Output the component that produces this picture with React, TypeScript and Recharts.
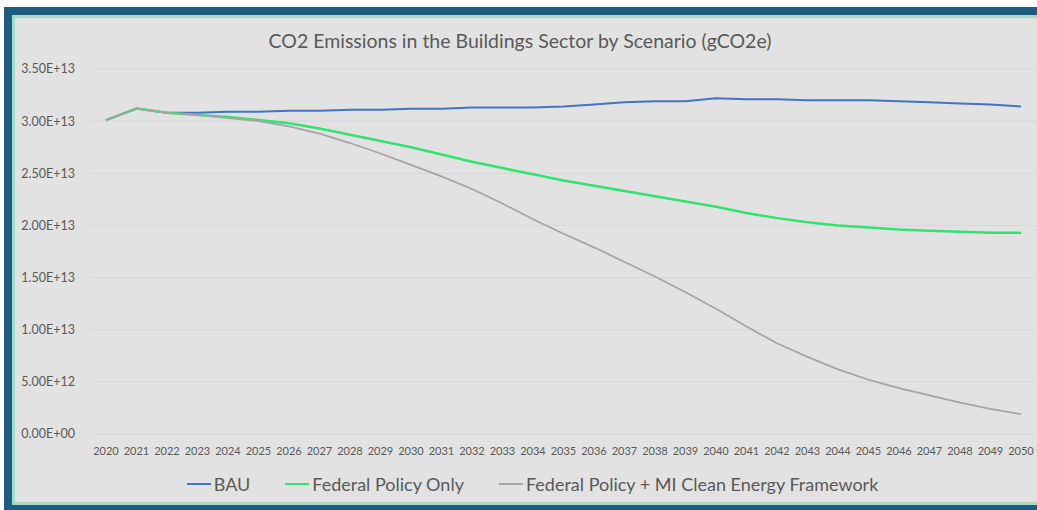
import { LineChart, Line, XAxis, YAxis, CartesianGrid, Legend } from 'recharts';

const years = [
  2020, 2021, 2022, 2023, 2024, 2025, 2026, 2027, 2028, 2029, 2030,
  2031, 2032, 2033, 2034, 2035, 2036, 2037, 2038, 2039, 2040,
  2041, 2042, 2043, 2044, 2045, 2046, 2047, 2048, 2049, 2050,
];

// gCO2e
const bau = [
  3.01e13, 3.12e13, 3.08e13, 3.08e13, 3.09e13, 3.09e13, 3.10e13, 3.10e13, 3.11e13, 3.11e13, 3.12e13,
  3.12e13, 3.13e13, 3.13e13, 3.13e13, 3.14e13, 3.16e13, 3.18e13, 3.19e13, 3.19e13, 3.22e13,
  3.21e13, 3.21e13, 3.20e13, 3.20e13, 3.20e13, 3.19e13, 3.18e13, 3.17e13, 3.16e13, 3.14e13,
];

const federalOnly = [
  3.01e13, 3.12e13, 3.08e13, 3.06e13, 3.04e13, 3.01e13, 2.98e13, 2.93e13, 2.87e13, 2.81e13, 2.75e13,
  2.68e13, 2.61e13, 2.55e13, 2.49e13, 2.43e13, 2.38e13, 2.33e13, 2.28e13, 2.23e13, 2.18e13,
  2.12e13, 2.07e13, 2.03e13, 2.00e13, 1.98e13, 1.96e13, 1.95e13, 1.94e13, 1.93e13, 1.93e13,
];

const federalMi = [
  3.01e13, 3.12e13, 3.08e13, 3.06e13, 3.03e13, 3.00e13, 2.95e13, 2.88e13, 2.79e13, 2.69e13, 2.58e13,
  2.47e13, 2.35e13, 2.21e13, 2.06e13, 1.92e13, 1.79e13, 1.65e13, 1.51e13, 1.36e13, 1.20e13,
  1.03e13, 0.87e13, 0.74e13, 0.62e13, 0.52e13, 0.44e13, 0.37e13, 0.30e13, 0.24e13, 0.19e13,
];

const yTicks = [0, 5e12, 1e13, 1.5e13, 2e13, 2.5e13, 3e13, 3.5e13];

const seriesOrder = ['bau', 'federalOnly', 'federalMi'];

const data = years.map((y, i) => ({
  year: String(y),
  bau: bau[i],
  federalOnly: federalOnly[i],
  federalMi: federalMi[i],
}));

const FONT = 'Lato, "Open Sans", sans-serif';
const TEXT = '#595959';

function sci(v: number) {
  if (v === 0) return '0.00E+00';
  const exp = Math.floor(Math.log10(v) + 1e-9);
  const m = v / Math.pow(10, exp);
  return `${m.toFixed(2)}E+${String(exp).padStart(2, '0')}`;
}

const renderLegend = (props: any) => {
  const items = [...(props.payload || [])].sort(
    (a: any, b: any) => seriesOrder.indexOf(a.dataKey) - seriesOrder.indexOf(b.dataKey)
  );
  return (
    <div
      style={{
        display: 'flex',
        justifyContent: 'center',
        alignItems: 'center',
        gap: 35,
        fontFamily: FONT,
        fontSize: 18,
        color: TEXT,
      }}
    >
      {items.map((e: any) => (
        <span key={e.value} style={{ display: 'flex', alignItems: 'center' }}>
          <svg width={24} height={10}>
            <line x1={0} y1={5} x2={24} y2={5} stroke={e.color} strokeWidth={2} />
          </svg>
          <span style={{ marginLeft: 3 }}>{e.value}</span>
        </span>
      ))}
    </div>
  );
};

export default function App() {
  return (
    <div style={{ position: 'fixed', left: 0, top: 0, right: 0, bottom: 0, background: '#fff', overflow: 'hidden' }}>
      <div style={{ position: 'absolute', left: 4, top: 7, right: -60, bottom: -20, background: '#1a5d80' }} />
      <div style={{ position: 'absolute', left: 12, top: 15, right: -60, height: 490, background: '#a9d9c4' }} />
      <div style={{ position: 'absolute', left: 15, top: 18, right: -60, height: 484, background: '#e2e2e2' }} />
      <div
        style={{
          position: 'absolute',
          left: 0,
          width: 1040,
          top: 30,
          textAlign: 'center',
          fontFamily: FONT,
          fontSize: 19.5,
          color: TEXT,
          lineHeight: '22px',
        }}
      >
        CO2 Emissions in the Buildings Sector by Scenario (gCO2e)
      </div>
      <div style={{ position: 'absolute', left: 0, top: 0 }}>
        <LineChart width={1037} height={510} data={data} margin={{ top: 69, right: 1, left: 0, bottom: 46 }}>
          <CartesianGrid vertical={false} stroke="#d6d6d6" strokeWidth={1} />
          <XAxis
            dataKey="year"
            interval={0}
            padding={{ left: 15, right: 15 }}
            axisLine={false}
            tickLine={false}
            tickSize={6}
            tickMargin={7}
            height={30}
            tick={{ fontSize: 11, fill: TEXT, fontFamily: FONT }}
          />
          <YAxis
            domain={[0, 3.5e13]}
            ticks={yTicks}
            tickFormatter={sci}
            width={91}
            axisLine={false}
            tickLine={false}
            tickSize={6}
            tickMargin={10}
            tick={{ fontSize: 12.5, fill: TEXT, fontFamily: FONT }}
          />
          <Legend
            layout="horizontal"
            verticalAlign="middle"
            align="center"
            content={renderLegend}
            wrapperStyle={{ top: 473, left: 14, width: 1037, height: 24 }}
          />
          <Line type="linear" dataKey="bau" name="BAU" stroke="#4472c4" strokeWidth={2} dot={false} isAnimationActive={false} />
          <Line type="linear" dataKey="federalOnly" name="Federal Policy Only" stroke="#33e36f" strokeWidth={2.5} dot={false} isAnimationActive={false} />
          <Line type="linear" dataKey="federalMi" name="Federal Policy + MI Clean Energy Framework" stroke="#a5a5a5" strokeWidth={1.75} dot={false} isAnimationActive={false} />
        </LineChart>
      </div>
    </div>
  );
}
